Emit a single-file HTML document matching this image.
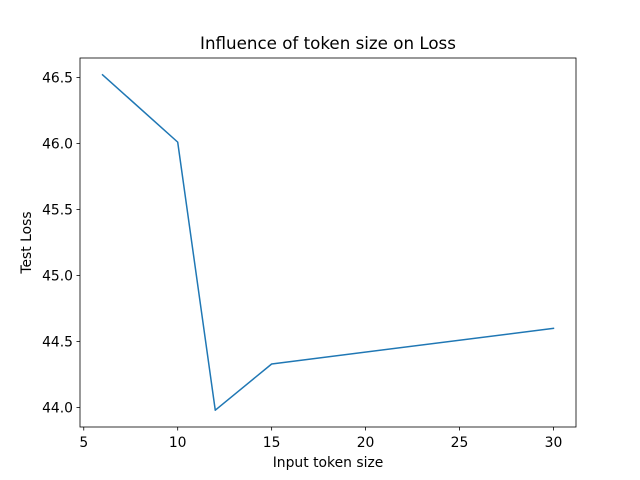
<!DOCTYPE html>
<html><head><meta charset="utf-8"><style>
body{margin:0;background:#fff;}
svg{display:block;font-family:"DejaVu Sans","Liberation Sans",sans-serif;}
</style></head><body>
<svg id="chart" width="640" height="480"></svg>
<script>
const xValues=[6,10,12,15,30];
const lossValues=[46.52,46.01,43.98,44.33,44.60];
const xTicks=[5,10,15,20,25,30];
const yTicks=[44.0,44.5,45.0,45.5,46.0,46.5];
const NS='http://www.w3.org/2000/svg';
const svg=document.getElementById('chart');
const L=80,R=576,T=58,B=427;
const xmin=Math.min(...xValues),xmax=Math.max(...xValues);
const ymin=Math.min(...lossValues),ymax=Math.max(...lossValues);
const xlo=xmin-0.05*(xmax-xmin),xhi=xmax+0.05*(xmax-xmin);
const ylo=ymin-0.05*(ymax-ymin),yhi=ymax+0.05*(ymax-ymin);
function sx(v){return L+(v-xlo)/(xhi-xlo)*(R-L);}
function sy(v){return B-(v-ylo)/(yhi-ylo)*(B-T);}
function mk(tag,attrs,text){const e=document.createElementNS(NS,tag);for(const k in attrs)e.setAttribute(k,attrs[k]);if(text!==undefined)e.textContent=text;svg.appendChild(e);return e;}
let e;
e=mk('rect',{x:L,y:T,width:R-L,height:B-T,fill:'none',stroke:'#000','stroke-width':0.8});


xTicks.forEach(t=>{const x=sx(t);
e=mk('line',{x1:x,x2:x,y1:B,y2:B+3.5,stroke:'#000','stroke-width':0.8});


e=mk('text',{x:x,y:B+20,'text-anchor':'middle','font-size':13.9},String(t));


});
yTicks.forEach(t=>{const y=sy(t);
e=mk('line',{x1:L-3.5,x2:L,y1:y,y2:y,stroke:'#000','stroke-width':0.8});


e=mk('text',{x:L-7,y:y+5,'text-anchor':'end','font-size':13.9},t.toFixed(1));


});
const pts=xValues.map((v,i)=>sx(v)+','+sy(lossValues[i])).join(' ');
e=mk('polyline',{points:pts,fill:'none',stroke:'#1f77b4','stroke-width':1.5,'stroke-linejoin':'round','stroke-linecap':'square'});


e=mk('text',{x:(L+R)/2,y:49,'text-anchor':'middle','font-size':16.7},'Influence of token size on Loss');


e=mk('text',{x:(L+R)/2,y:467,'text-anchor':'middle','font-size':13.9},'Input token size');


e=mk('text',{x:31,y:(T+B)/2,'text-anchor':'middle','font-size':13.9,transform:'rotate(-90 31 '+((T+B)/2)+')'},'Test Loss');


</script>
</body></html>
